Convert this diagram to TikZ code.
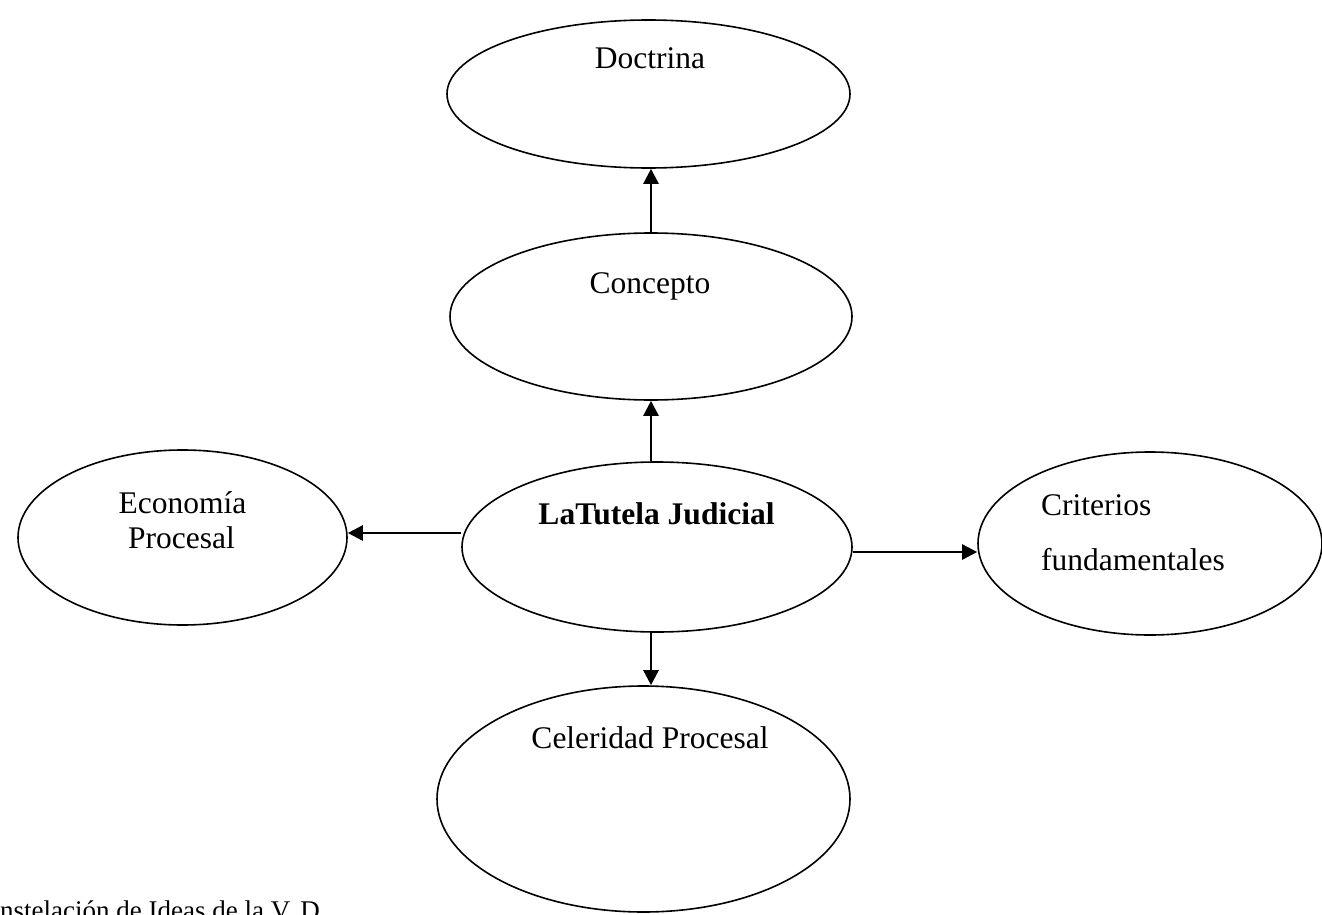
\documentclass[tikz,border=0pt]{standalone}
\usepackage{fontspec}
\setmainfont{Liberation Serif}
\usetikzlibrary{shapes.geometric,arrows.meta}
\begin{document}
\begin{tikzpicture}[x=1pt,y=-1pt,
  oval/.style={draw,ellipse,line width=1.6pt,inner sep=0pt},
  lbl/.style={anchor=base,inner sep=0pt,font=\fontsize{31.5}{38}\selectfont},
  arr/.style={line width=2.5pt,-{Triangle[length=15pt,width=15pt]}}]
\useasboundingbox (0,0) rectangle (1322,915);
% ellipses
\node[oval,minimum width=403pt,minimum height=148pt] (doc) at (648.5,94) {};
\node[oval,minimum width=402pt,minimum height=167pt] (con) at (651,316.5) {};
\node[oval,minimum width=390pt,minimum height=170pt] (main) at (657,547) {};
\node[oval,minimum width=329pt,minimum height=175pt] (eco) at (182.5,537.5) {};
\node[oval,minimum width=344pt,minimum height=183pt] (cri) at (1150,543.5) {};
\node[oval,minimum width=413pt,minimum height=226pt] (cel) at (643.5,799) {};
% labels
\node[lbl] (tdoc) at (650,69) {Doctrina};
\node[lbl] (tcon) at (650,293) {Concepto};
\node[lbl,font=\fontsize{31.5}{38}\selectfont\bfseries] (tmain) at (656.5,524) {LaTutela Judicial};
\node[lbl] (teco1) at (182.5,513) {Economía};
\node[lbl] (teco2) at (181.5,548) {Procesal};
\node[lbl,anchor=base west] (tcri1) at (1041,515) {Criterios};
\node[lbl,anchor=base west] (tcri2) at (1041,570) {fundamentales};
\node[lbl] (tcel) at (650,748) {Celeridad Procesal};
\node[anchor=base west,inner sep=0pt,font=\fontsize{27}{32}\selectfont] (cap) at (0,919) {nstelación de Ideas de la V. D.};
% connectors
\draw[arr] (con.south |- main.north) -- (con.south);
\draw[arr] (con.north) -- (con.north |- doc.south);
\draw[arr] ([yshift=4.5pt]eco.east -| main.west) -- ([yshift=4.5pt]eco.east);
\draw[arr] ([yshift=-5pt]main.east) -- ([yshift=-5pt]main.east -| cri.west);
\draw[arr] (con.south |- main.south) -- (con.south |- cel.north);
\end{tikzpicture}
\end{document}
